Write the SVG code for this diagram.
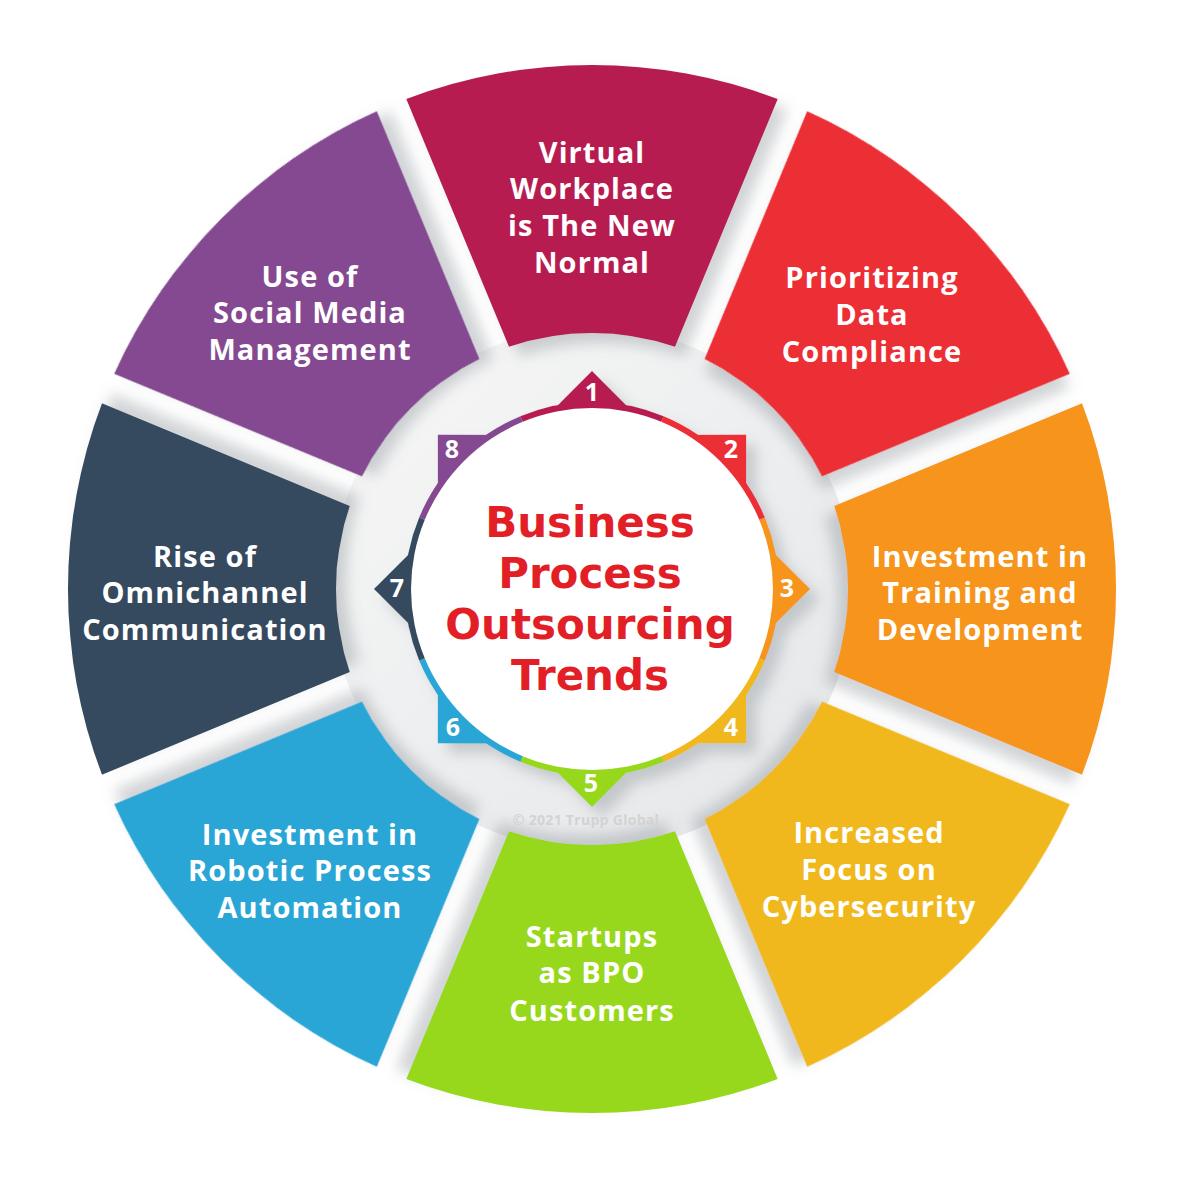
<svg xmlns="http://www.w3.org/2000/svg" width="1200" height="1200" viewBox="0 0 1200 1200">
  <defs>
    <style>
      .lbl { font-family: "Open Sans", "Liberation Sans", sans-serif; font-weight: 700; font-size: 29px; fill: #ffffff; text-anchor: middle; letter-spacing: 1.1px; }
      .num { font-family: "Open Sans", "Liberation Sans", sans-serif; font-weight: 700; font-size: 25px; fill: #ffffff; text-anchor: middle; }
      .title { font-family: "DejaVu Sans", "Open Sans", sans-serif; font-weight: 700; font-size: 42px; fill: #e21f26; text-anchor: middle; }
      .copy { font-family: "Open Sans", "Liberation Sans", sans-serif; font-weight: 700; font-size: 14px; fill: #d3d3d3; text-anchor: middle; letter-spacing: 0.3px; }
      .c1 { fill: #b71f51; } .c2 { fill: #ec2d36; } .c3 { fill: #f6941f; } .c4 { fill: #f0b81e; }
      .c5 { fill: #98d81c; } .c6 { fill: #2ba6d6; } .c7 { fill: #344a5e; } .c8 { fill: #844a91; }
    </style>
    <path id="seg" d="M-185.7,-490 A524,524 0 0 1 185.7,-490 L83,-242.2 A256,256 0 0 0 -83,-242.2 Z"/>
    <path id="tab" d="M0,0 L-71.2,-171.8 L-63.8,-154.1 L0,-218 L63.8,-154.1 L71.2,-171.8 Z"/>
    <path id="band" d="M0,0 L-71.6,-172.8 A187,187 0 0 1 71.6,-172.8 Z"/>
    <filter id="shadow" x="-20%" y="-20%" width="150%" height="150%">
      <feGaussianBlur in="SourceAlpha" stdDeviation="7"/>
      <feOffset dx="10" dy="10" result="b"/>
      <feFlood flood-color="#7d858c" flood-opacity="0.35"/>
      <feComposite in2="b" operator="in"/>
      <feMerge><feMergeNode/><feMergeNode in="SourceGraphic"/></feMerge>
    </filter>
    <linearGradient id="ringbg" x1="0" y1="0" x2="1" y2="1">
      <stop offset="0" stop-color="#f7f7f7"/>
      <stop offset="1" stop-color="#e4e6e8"/>
    </linearGradient>
  </defs>

  <rect x="0" y="0" width="1200" height="1200" fill="#ffffff"/>

  <!-- background ring under the segments -->
  <circle cx="592" cy="589" r="262" fill="url(#ringbg)"/>

  <!-- segments -->
  <g id="node-1">
    <use href="#seg" class="c1" transform="translate(592,589) rotate(0)" filter="url(#shadow)"/>
    <text class="lbl"><tspan x="592" y="163">Virtual</tspan><tspan x="592" y="199">Workplace</tspan><tspan x="592" y="236">is The New</tspan><tspan x="592" y="273">Normal</tspan></text>
  </g>
  <g id="node-2">
    <use href="#seg" class="c2" transform="translate(592,589) rotate(45)" filter="url(#shadow)"/>
    <text class="lbl"><tspan x="872" y="288">Prioritizing</tspan><tspan x="872" y="325">Data</tspan><tspan x="872" y="362">Compliance</tspan></text>
  </g>
  <g id="node-3">
    <use href="#seg" class="c3" transform="translate(592,589) rotate(90)" filter="url(#shadow)"/>
    <text class="lbl"><tspan x="980" y="567">Investment in</tspan><tspan x="980" y="603">Training and</tspan><tspan x="980" y="640">Development</tspan></text>
  </g>
  <g id="node-4">
    <use href="#seg" class="c4" transform="translate(592,589) rotate(135)" filter="url(#shadow)"/>
    <text class="lbl"><tspan x="869" y="843">Increased</tspan><tspan x="869" y="880">Focus on</tspan><tspan x="869" y="917">Cybersecurity</tspan></text>
  </g>
  <g id="node-5">
    <use href="#seg" class="c5" transform="translate(592,589) rotate(180)" filter="url(#shadow)"/>
    <text class="lbl"><tspan x="592" y="947">Startups</tspan><tspan x="592" y="983">as BPO</tspan><tspan x="592" y="1021">Customers</tspan></text>
  </g>
  <g id="node-6">
    <use href="#seg" class="c6" transform="translate(592,589) rotate(225)" filter="url(#shadow)"/>
    <text class="lbl"><tspan x="310" y="845">Investment in</tspan><tspan x="310" y="881">Robotic Process</tspan><tspan x="310" y="918">Automation</tspan></text>
  </g>
  <g id="node-7">
    <use href="#seg" class="c7" transform="translate(592,589) rotate(270)" filter="url(#shadow)"/>
    <text class="lbl"><tspan x="205" y="567">Rise of</tspan><tspan x="205" y="603">Omnichannel</tspan><tspan x="205" y="640">Communication</tspan></text>
  </g>
  <g id="node-8">
    <use href="#seg" class="c8" transform="translate(592,589) rotate(315)" filter="url(#shadow)"/>
    <text class="lbl"><tspan x="310" y="287">Use of</tspan><tspan x="310" y="323">Social Media</tspan><tspan x="310" y="360">Management</tspan></text>
  </g>

  <!-- numbered star tabs -->
  <g id="tabs" filter="url(#shadow)">
    <g id="tab-1" transform="translate(592,589) rotate(0)"><use href="#tab" class="c1"/><use href="#band" class="c1"/></g>
    <g id="tab-2" transform="translate(592,589) rotate(45)"><use href="#tab" class="c2"/><use href="#band" class="c2"/></g>
    <g id="tab-3" transform="translate(592,589) rotate(90)"><use href="#tab" class="c3"/><use href="#band" class="c3"/></g>
    <g id="tab-4" transform="translate(592,589) rotate(135)"><use href="#tab" class="c4"/><use href="#band" class="c4"/></g>
    <g id="tab-5" transform="translate(592,589) rotate(180)"><use href="#tab" class="c5"/><use href="#band" class="c5"/></g>
    <g id="tab-6" transform="translate(592,589) rotate(225)"><use href="#tab" class="c6"/><use href="#band" class="c6"/></g>
    <g id="tab-7" transform="translate(592,589) rotate(270)"><use href="#tab" class="c7"/><use href="#band" class="c7"/></g>
    <g id="tab-8" transform="translate(592,589) rotate(315)"><use href="#tab" class="c8"/><use href="#band" class="c8"/></g>
  </g>

  <!-- center -->
  <g id="center">
    <circle cx="592" cy="589" r="181" fill="#ffffff"/>
    <text class="title"><tspan x="590" y="537">Business</tspan><tspan x="590" y="588">Process</tspan><tspan x="590" y="639">Outsourcing</tspan><tspan x="590" y="690">Trends</tspan></text>
  </g>

  <g id="numbers">
    <text class="num" x="592" y="401">1</text>
    <text class="num" x="731" y="458">2</text>
    <text class="num" x="787" y="597">3</text>
    <text class="num" x="731" y="736">4</text>
    <text class="num" x="591" y="792">5</text>
    <text class="num" x="453" y="736">6</text>
    <text class="num" x="397" y="597">7</text>
    <text class="num" x="452" y="458">8</text>
  </g>

  <text class="copy" x="586" y="825">© 2021 Trupp Global</text>
</svg>
